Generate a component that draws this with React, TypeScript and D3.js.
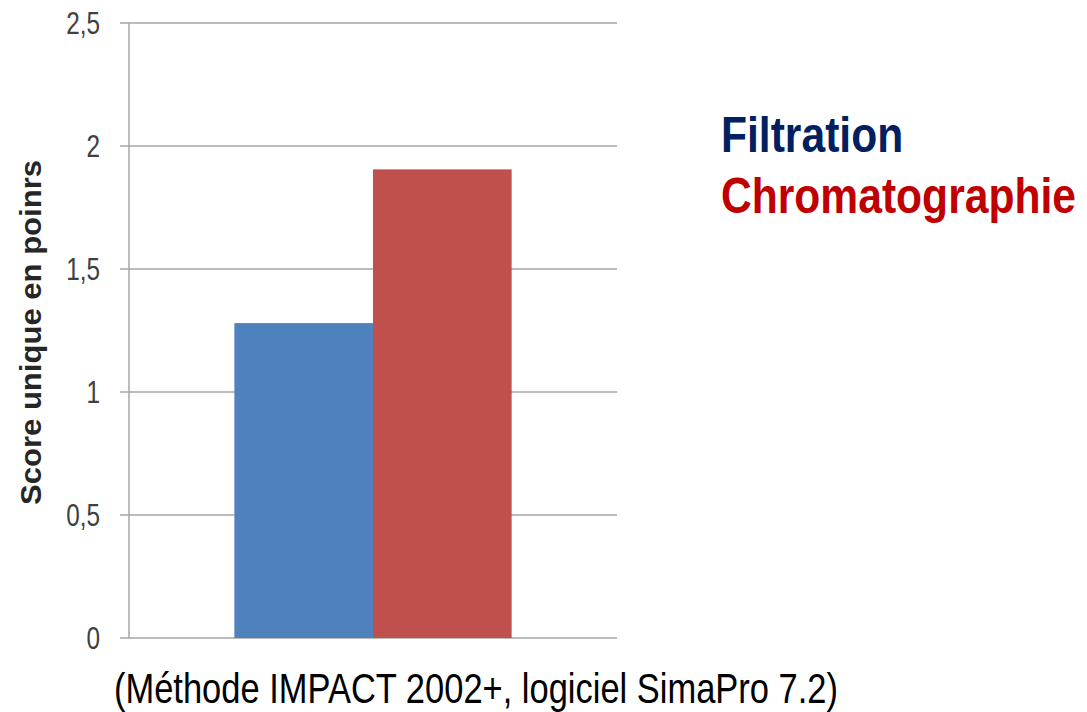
import { useEffect, useRef } from 'react';
import * as d3 from 'd3';

const categories = [''];
const seriesNames = ['Filtration', 'Chromatographie'];
const seriesValues = [1.28, 1.905];
const seriesColors = ['#4F81BD', '#C0504D'];
const legendColors = ['#002060', '#C00000'];
const yTicks = [0, 0.5, 1, 1.5, 2, 2.5];
const yTitle = 'Score unique en poinrs';
const caption = '(Méthode IMPACT 2002+, logiciel SimaPro 7.2)';

const frLocale = d3.formatLocale({
  decimal: ',',
  thousands: ' ',
  grouping: [3],
  currency: ['', ' €'],
});

function App() {
  const svgRef = useRef<SVGSVGElement>(null);

  useEffect(() => {
    const width = 1087;
    const height = 712;
    const plot = { left: 129, right: 617, top: 23, bottom: 638 };

    const svg = d3.select(svgRef.current)
      .attr('width', width)
      .attr('height', height);

    svg.selectAll('*').remove();

    const yScale = d3.scaleLinear()
      .domain([0, 2.5])
      .range([plot.bottom, plot.top]);

    const xScale = d3.scaleBand()
      .domain(categories)
      .range([plot.left, plot.right])
      .paddingInner(0)
      .paddingOuter(0.38);

    const xSeries = d3.scaleBand()
      .domain(seriesNames)
      .range([0, xScale.bandwidth()])
      .padding(0);

    const fmt = frLocale.format('~g');

    // gridlines (they run past the axis to form the tick marks)
    svg.append('g')
      .selectAll('line')
      .data(yTicks)
      .enter()
      .append('line')
      .attr('x1', plot.left - 9)
      .attr('x2', plot.right)
      .attr('y1', d => yScale(d))
      .attr('y2', d => yScale(d))
      .attr('stroke', '#a6a6a6')
      .attr('stroke-width', 1.5);

    // bars
    const bars = seriesNames.map((name, i) => ({ cat: categories[0], name, value: seriesValues[i], color: seriesColors[i] }));
    svg.append('g')
      .selectAll('rect')
      .data(bars)
      .enter()
      .append('rect')
      .attr('x', d => (xScale(d.cat) as number) + (xSeries(d.name) as number))
      .attr('y', d => yScale(d.value))
      .attr('width', xSeries.bandwidth())
      .attr('height', d => yScale(0) - yScale(d.value))
      .attr('fill', d => d.color);

    // vertical axis line
    svg.append('line')
      .attr('x1', plot.left)
      .attr('x2', plot.left)
      .attr('y1', yScale(2.5))
      .attr('y2', yScale(0))
      .attr('stroke', '#a6a6a6')
      .attr('stroke-width', 1.5);

    // tick labels
    svg.append('g')
      .selectAll('text')
      .data(yTicks)
      .enter()
      .append('text')
      .attr('transform', d => `translate(100, ${yScale(d) + 10.5}) scale(0.76, 1)`)
      .attr('text-anchor', 'end')
      .attr('font-family', '"Liberation Sans", Arial, sans-serif')
      .attr('font-size', 32)
      .attr('fill', '#404040')
      .text(d => fmt(d));

    // y axis title
    svg.append('text')
      .attr('transform', `translate(41, ${(160 + 505) / 2}) rotate(-90)`)
      .attr('text-anchor', 'middle')
      .attr('font-family', '"Liberation Sans", Arial, sans-serif')
      .attr('font-weight', 'bold')
      .attr('font-size', 29)
      .attr('fill', '#262626')
      .attr('textLength', 345)
      .attr('lengthAdjust', 'spacingAndGlyphs')
      .text(yTitle);

    // legend text (condensed by a horizontal scale)
    svg.append('g')
      .selectAll('text')
      .data(seriesNames)
      .enter()
      .append('text')
      .attr('transform', (d, i) => `translate(721, ${152 + i * 61}) scale(0.852, 1)`)
      .attr('font-family', '"Liberation Sans", Arial, sans-serif')
      .attr('font-weight', 'bold')
      .attr('font-size', 50)
      .attr('fill', (d, i) => legendColors[i])
      .text(d => d);

    // caption
    svg.append('text')
      .attr('x', 114)
      .attr('y', 703)
      .attr('font-family', '"Liberation Sans", Arial, sans-serif')
      .attr('font-size', 43)
      .attr('fill', '#000')
      .attr('textLength', 724)
      .attr('lengthAdjust', 'spacingAndGlyphs')
      .text(caption);
  }, []);

  return <svg ref={svgRef} style={{ position: 'absolute', left: 0, top: 0, background: '#fff' }}></svg>;
}

export default App;
